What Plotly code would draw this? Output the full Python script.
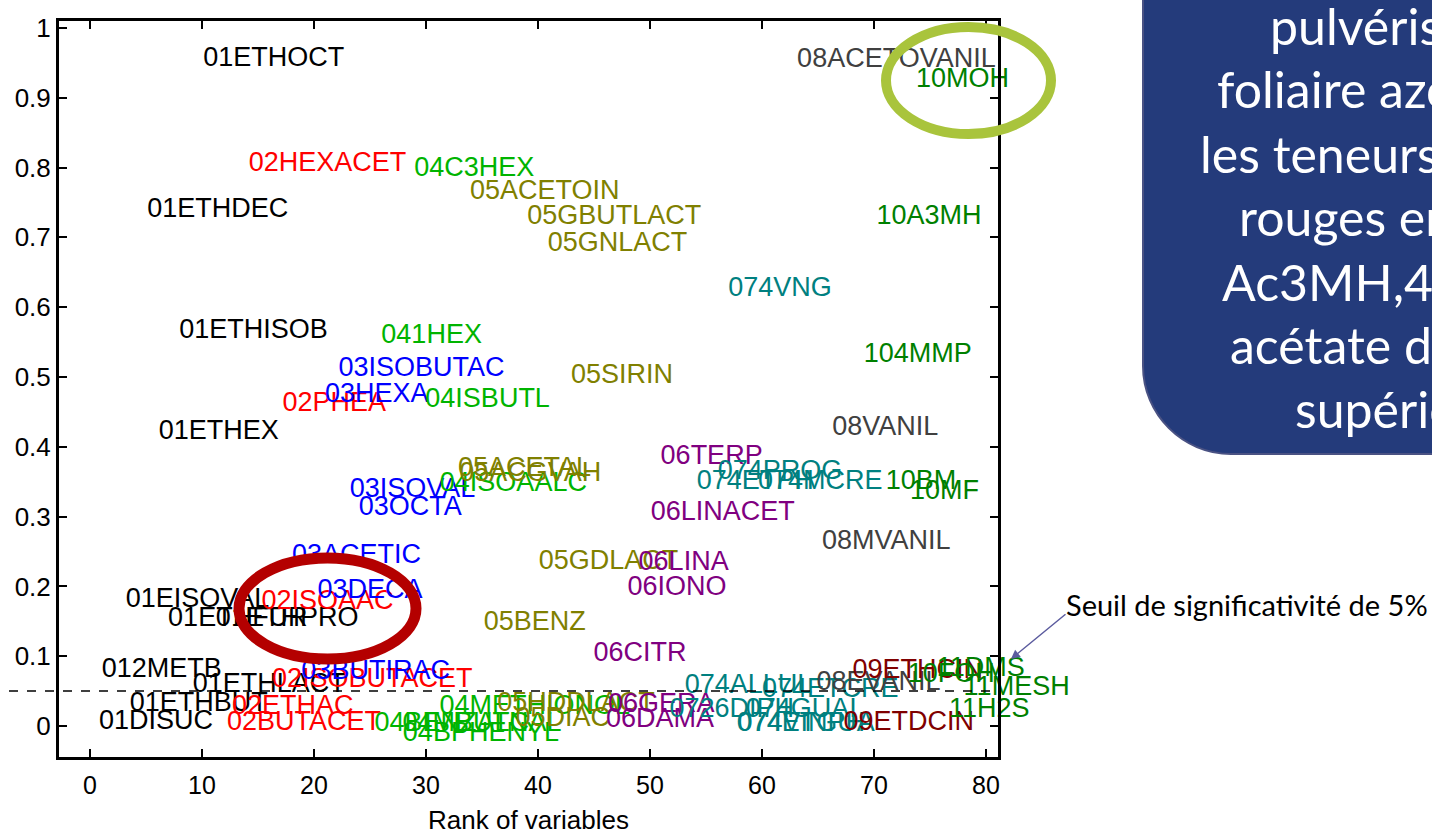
import plotly.graph_objects as go

LABEL_FONT = "Liberation Sans, Arial, sans-serif"
BOX_FONT = "Lato, Open Sans, sans-serif"

# ---- variables by family: name, rank, value ----
g01_names = ["01ETHOCT", "01ETHDEC", "01ETHISOB", "01ETHEX", "01EISOVAL", "01ETHFUR",
             "01ETHPRO", "012METB", "01ETHLACT", "01ETHBUT", "01DISUC"]
g01_rank = [16.4, 11.4, 14.6, 11.5, 9.6, 13.2, 17.6, 6.4, 16.0, 9.7, 5.9]
g01_val = [0.955, 0.739, 0.566, 0.421, 0.180, 0.153, 0.153, 0.080, 0.059, 0.031, 0.006]

g02_names = ["02HEXACET", "02PHEA", "02ISOAAC", "02ISOBUTACET", "02ETHAC", "02BUTACET"]
g02_rank = [21.2, 21.8, 21.2, 25.2, 18.1, 19.1]
g02_val = [0.805, 0.461, 0.177, 0.066, 0.027, 0.004]

g03_names = ["03ISOBUTAC", "03HEXA", "03ISOVAL", "03OCTA", "03ACETIC", "03DECA", "03BUTIRAC"]
g03_rank = [29.6, 25.6, 28.8, 28.6, 23.8, 25.0, 25.5]
g03_val = [0.511, 0.474, 0.338, 0.312, 0.243, 0.193, 0.077]

g04_names = ["04C3HEX", "041HEX", "04ISBUTL", "04ISOAALC", "04METHIONOL",
             "04BENZALC", "04MBUTNAL", "04BPHENYL"]
g04_rank = [34.3, 30.5, 35.5, 37.8, 39.7, 32.3, 35.0, 34.9]
g04_val = [0.798, 0.559, 0.467, 0.347, 0.027, 0.003, 0.003, -0.012]

g05_names = ["05ACETOIN", "05GBUTLACT", "05GNLACT", "05SIRIN", "05ACETAL", "05ACGVAH",
             "05GDLACT", "05BENZ", "05HDDLACT", "05DIAC"]
g05_rank = [40.6, 46.8, 47.1, 47.5, 38.8, 39.3, 46.3, 39.7, 43.4, 42.2]
g05_val = [0.765, 0.729, 0.690, 0.501, 0.368, 0.361, 0.235, 0.147, 0.031, 0.010]

g06_names = ["06TERP", "06LINACET", "06LINA", "06IONO", "06CITR", "06GERA", "06DAMA"]
g06_rank = [55.5, 56.5, 53.0, 52.4, 49.1, 51.0, 50.9]
g06_val = [0.385, 0.305, 0.233, 0.197, 0.103, 0.030, 0.008]

g07_names = ["074VNG", "074PROG", "074ETPH", "074MCRE", "074ALLUL", "074ETCRE",
             "0726DIPH", "074GUAI", "074VINPH", "074ETGUA"]
g07_rank = [61.6, 61.6, 59.4, 65.2, 58.8, 66.1, 57.3, 63.5, 63.5, 63.9]
g07_val = [0.626, 0.364, 0.349, 0.349, 0.057, 0.051, 0.023, 0.023, 0.003, 0.003]

g08_names = ["08ACETOVANIL", "08VANIL", "08MVANIL", "08EVANIL"]
g08_rank = [72.0, 71.0, 71.1, 70.4]
g08_val = [0.954, 0.427, 0.263, 0.061]

g09_names = ["09ETHCIN", "09ETDCIN"]
g09_rank = [73.9, 73.1]
g09_val = [0.079, 0.004]

g10_names = ["10MOH", "10A3MH", "104MMP", "10BM", "10MF", "10FOH"]
g10_rank = [77.9, 74.9, 73.9, 74.2, 76.3, 76.9]
g10_val = [0.925, 0.729, 0.531, 0.349, 0.335, 0.073]

# sulfur compounds: labels written to the right of their rank
g11_names = ["11DMS", "11MESH", "11H2S"]
g11_rank = [75.6, 78.0, 76.7]
g11_val = [0.082, 0.054, 0.023]

families = [
    (g01_names, g01_rank, g01_val, "#000000", "middle center"),
    (g02_names, g02_rank, g02_val, "#FF0000", "middle center"),
    (g03_names, g03_rank, g03_val, "#0000FF", "middle center"),
    (g04_names, g04_rank, g04_val, "#00B400", "middle center"),
    (g05_names, g05_rank, g05_val, "#808000", "middle center"),
    (g06_names, g06_rank, g06_val, "#800080", "middle center"),
    (g07_names, g07_rank, g07_val, "#008080", "middle center"),
    (g08_names, g08_rank, g08_val, "#404040", "middle center"),
    (g09_names, g09_rank, g09_val, "#800000", "middle center"),
    (g10_names, g10_rank, g10_val, "#008000", "middle center"),
    (g11_names, g11_rank, g11_val, "#008000", "middle right"),
]

threshold = 0.05
x_ticks = [0, 10, 20, 30, 40, 50, 60, 70, 80]
y_ticks = [0, 0.1, 0.2, 0.3, 0.4, 0.5, 0.6, 0.7, 0.8, 0.9, 1]
y_tick_text = ["0", "0.1", "0.2", "0.3", "0.4", "0.5", "0.6", "0.7", "0.8", "0.9", "1"]

box_lines = ["pulvérisation", "foliaire azotée", "les teneurs en", "rouges en",
             "Ac3MH,4MMP", "acétate d’hexyle", "supérieures"]
box_line_x = [1268, 1215, 1198, 1237, 1220, 1228, 1293]
box_line_y = [26, 89, 154, 217, 282, 345, 409]

fig = go.Figure()
for names, ranks, vals, color, pos in families:
    fig.add_trace(go.Scatter(
        x=ranks, y=vals, text=names, mode="text",
        textposition=pos,
        textfont=dict(family=LABEL_FONT, size=27, color=color),
        cliponaxis=False, hoverinfo="text", showlegend=False,
    ))

# plot area in pixels
L, R, T, B = 59, 998, 21, 757
W, H = 1432, 834


def px(xp):
    return (xp - L) / (R - L)


def py(yp):
    return (B - yp) / (B - T)


shapes = []
# significance threshold
shapes.append(dict(type="line", xref="paper", yref="y", x0=px(9), x1=1,
                   y0=threshold, y1=threshold,
                   line=dict(color="black", width=1.5, dash="dash"), layer="above"))
# highlight ellipses
shapes.append(dict(type="circle", xref="paper", yref="paper",
                   x0=px(886), x1=px(1051), y0=py(134), y1=py(27),
                   line=dict(color="#A9C43C", width=10), layer="above"))
shapes.append(dict(type="circle", xref="paper", yref="paper",
                   x0=px(239), x1=px(416), y0=py(659), y1=py(558),
                   line=dict(color="#B40000", width=11), layer="above"))
# blue comment box with rounded lower-left corner
bx0, bx1, by0, by1, rad = 1143, 1500, 454, -30, 88
path = (f"M {px(bx0)},{py(by1)} L {px(bx0)},{py(by0 - rad)} "
        f"C {px(bx0)},{py(by0 - rad * 0.45)} {px(bx0 + rad * 0.45)},{py(by0)} {px(bx0 + rad)},{py(by0)} "
        f"L {px(bx1)},{py(by0)} L {px(bx1)},{py(by1)} Z")
shapes.append(dict(type="path", xref="paper", yref="paper", path=path,
                   fillcolor="#243B7B", line=dict(color="#4A5283", width=2), layer="above"))

annotations = []
for txt, xl, yc in zip(box_lines, box_line_x, box_line_y):
    annotations.append(dict(xref="paper", yref="paper", x=px(xl), y=py(yc),
                            xanchor="left", yanchor="middle", showarrow=False,
                            text=txt, font=dict(family=BOX_FONT, size=50, color="white")))

annotations.append(dict(xref="paper", yref="paper", x=px(1064), y=py(604),
                        xanchor="left", yanchor="middle", showarrow=False,
                        text="Seuil de significativité de 5%",
                        font=dict(family=BOX_FONT, size=29, color="black")))
annotations.append(dict(xref="paper", yref="paper", x=px(1011), y=py(659),
                        ax=56, ay=-46, text="", showarrow=True,
                        arrowhead=2, arrowsize=1.2, arrowwidth=1.5,
                        arrowcolor="#5B5B9E"))
# x axis title
annotations.append(dict(xref="paper", yref="paper", x=0.5, y=py(820),
                        xanchor="center", yanchor="middle", showarrow=False,
                        text="Rank of variables",
                        font=dict(family=LABEL_FONT, size=26, color="black")))

axis_common = dict(showline=True, linecolor="black", linewidth=3, mirror="ticks",
                   ticks="inside", ticklen=8, tickwidth=2, tickcolor="black",
                   showgrid=False, zeroline=False, automargin=False)

fig.update_layout(
    width=W, height=H,
    margin=dict(l=L, r=W - R, t=T, b=H - B, autoexpand=False),
    paper_bgcolor="white", plot_bgcolor="white",
    xaxis=dict(range=[-2.77, 81.07], tickvals=x_ticks, ticklabelstandoff=4,
               tickfont=dict(family=LABEL_FONT, size=25, color="black"),
               **axis_common),
    yaxis=dict(range=[-0.0444, 1.0100], tickvals=y_ticks, ticktext=y_tick_text,
               ticklabelstandoff=0,
               tickfont=dict(family=LABEL_FONT, size=26, color="black"),
               **axis_common),
    shapes=shapes, annotations=annotations,
)

fig.write_html("out.html")
